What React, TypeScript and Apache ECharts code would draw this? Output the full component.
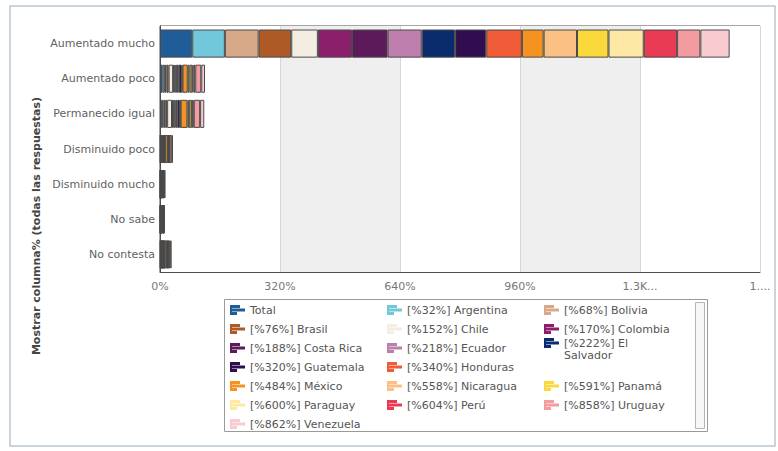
import React, { useEffect, useRef } from "react";
import * as echarts from "echarts";

// Response categories (rows of the chart)
const categories = [
  "Aumentado mucho",
  "Aumentado poco",
  "Permanecido igual",
  "Disminuido poco",
  "Disminuido mucho",
  "No sabe",
  "No contesta",
];

// Columns (one stacked segment each)
const countries = [
  "Total", "Argentina", "Bolivia", "Brasil", "Chile", "Colombia", "Costa Rica",
  "Ecuador", "El Salvador", "Guatemala", "Honduras", "México", "Nicaragua",
  "Panamá", "Paraguay", "Perú", "Uruguay", "Venezuela",
];

// Bracketed tag shown before each country name in the legend
const legendTags = [null, 32, 68, 76, 152, 170, 188, 218, 222, 320, 340, 484, 558, 591, 600, 604, 858, 862];

const countryColors = [
  "#1f5c98", "#70c8da", "#d7a988", "#ae5a27", "#f4eee2", "#8c1f6c", "#5d1a5a",
  "#be7fae", "#0b2c6c", "#2f0d4f", "#ef5c37", "#f4931f", "#fbc184", "#fbd93d",
  "#fde8a5", "#e93b53", "#f29ba1", "#f7cbd0",
];

// Column percentages per response, in country order
const aumentadoMucho = [86, 87, 90, 87, 71, 91, 95, 91, 89, 83, 95, 58, 89, 84, 94, 89, 62, 78];
const aumentadoPoco = [7, 6, 4, 6, 12, 4, 2, 4, 5, 8, 2, 14, 5, 7, 3, 5, 16, 10];
const permanecidoIgual = [5, 5, 4, 5, 13, 4, 2, 4, 4, 7, 2, 18, 4, 7, 2, 4, 17, 11];
const disminuidoPoco = [1, 1, 1, 1, 4, 1, 0.5, 1, 1, 2, 0.5, 7, 1, 2, 0.5, 1, 6, 3];
const disminuidoMucho = [0.5, 0.5, 0.3, 0.5, 1, 0.3, 0.2, 0.3, 0.5, 0.8, 0.2, 3, 0.5, 0.6, 0.2, 0.5, 2.5, 1];
const noSabe = [0.5, 0.4, 0.5, 0.5, 1, 0.3, 0.2, 0.4, 0.6, 1, 0.3, 2, 0.6, 0.8, 0.3, 0.5, 1.5, 1];
const noContesta = [1, 1, 1, 1, 2, 1, 0.5, 1, 1, 2, 0.5, 5, 1.5, 2, 1, 1.5, 4, 4];

const responseRows = [
  aumentadoMucho, aumentadoPoco, permanecidoIgual, disminuidoPoco,
  disminuidoMucho, noSabe, noContesta,
];

const xTickLabels = ["0%", "320%", "640%", "960%", "1.3K...", "1...."];
const X_STEP = 320;

const FONT = '"DejaVu Sans", Verdana, sans-serif';
const LEGEND_ICON =
  "path://M0,0H2V10H0Z M2,0H10V3H2Z M2,3.5H15V6.5H2Z M2,7H7V10H2Z";

const seriesNames = countries.map((c, i) =>
  legendTags[i] == null ? c : `[%${legendTags[i]}%] ${c}`
);

// Legend laid out as a 3-column table; a wrapped entry blocks the cell below it
function buildLegends() {
  const colX = [230, 387, 544];
  const firstRowY = 310;
  const rowStep = 19;
  const wrapLine = 12;
  const blocked = new Set<number>();
  let slot = 0;
  return seriesNames.map((name, i) => {
    while (blocked.has(slot)) slot++;
    const col = slot % 3;
    const row = Math.floor(slot / 3);
    const cy = firstRowY + row * rowStep;
    const wraps = countries[i] === "El Salvador";
    if (wraps) blocked.add(slot + 3);
    slot++;
    const base = {
      data: [name],
      left: colX[col],
      padding: 0,
      orient: "vertical",
      icon: LEGEND_ICON,
      itemWidth: 15,
      itemHeight: 10,
      itemGap: 4,
      itemStyle: { borderWidth: 0 },
    };
    if (wraps) {
      // leading blank line keeps the first text line level with the icon
      return {
        ...base,
        top: cy - 5 - wrapLine * 1.5,
        formatter: (n: string) => "\n" + n,
        textStyle: {
          color: "#555",
          fontSize: 11,
          fontFamily: FONT,
          width: 72,
          overflow: "break",
          lineHeight: wrapLine,
        },
      };
    }
    return {
      ...base,
      top: cy - 6,
      textStyle: { color: "#555", fontSize: 11, fontFamily: FONT, lineHeight: 12 },
    };
  });
}

export default function App() {
  const ref = useRef<HTMLDivElement>(null);

  useEffect(() => {
    if (!ref.current) return;
    const chart = echarts.init(ref.current, undefined, { renderer: "svg" });

    const series = seriesNames.map((name, i) => ({
      name,
      type: "bar",
      stack: "total",
      barWidth: "80%",
      itemStyle: {
        color: countryColors[i],
        borderColor: "#4a4a4a",
        borderWidth: 1,
      },
      emphasis: { disabled: true },
      data: responseRows.map((row) => row[i]),
    }));

    chart.setOption({
      animation: false,
      backgroundColor: "#ffffff",
      textStyle: { fontFamily: FONT },
      grid: {
        left: 160,
        right: 18,
        top: 26,
        bottom: 179,
        show: true,
        borderColor: "#4d4d4d",
        borderWidth: 1,
        backgroundColor: "transparent",
      },
      xAxis: {
        type: "value",
        min: 0,
        max: 1600,
        interval: X_STEP,
        axisLine: { show: true, lineStyle: { color: "#4d4d4d", width: 1 } },
        axisTick: { show: false },
        axisLabel: {
          color: "#777",
          fontSize: 11,
          fontFamily: FONT,
          margin: 9,
          formatter: (v: number) => xTickLabels[Math.round(v / X_STEP)] ?? "",
        },
        splitLine: { show: true, lineStyle: { color: "#d6d6d6", width: 1 } },
        splitArea: {
          show: true,
          areaStyle: { color: ["#ffffff", "#efefef"] },
        },
      },
      yAxis: {
        type: "category",
        inverse: true,
        data: categories,
        axisLine: { show: true, lineStyle: { color: "#4d4d4d", width: 1 } },
        axisTick: { show: false },
        axisLabel: {
          color: "#5f5f5f",
          fontSize: 11,
          fontFamily: FONT,
          margin: 5,
        },
      },
      legend: buildLegends(),
      series,
      graphic: [
        {
          type: "rect",
          shape: { x: 10, y: 6, width: 765, height: 440 },
          style: { fill: "none", stroke: "#bcc6cf", lineWidth: 1.5 },
          silent: true,
          z: -10,
        },
        {
          type: "rect",
          shape: { x: 224.5, y: 299.5, width: 483, height: 132 },
          style: { fill: "none", stroke: "#9a9a9a", lineWidth: 1 },
          silent: true,
        },
        {
          type: "rect",
          shape: { x: 695.5, y: 302.5, width: 9, height: 126 },
          style: { fill: "#f7f7f7", stroke: "#b5b5b5", lineWidth: 1 },
          silent: true,
        },
        {
          type: "text",
          x: 36,
          y: 226,
          rotation: Math.PI / 2,
          style: {
            text: "Mostrar columna% (todas las respuestas)",
            font: `bold 11px ${FONT}`,
            fill: "#444",
            align: "center",
            verticalAlign: "middle",
          },
          silent: true,
        },
      ],
    });

    return () => chart.dispose();
  }, []);

  return (
    <div
      ref={ref}
      style={{ position: "absolute", left: 0, top: 0, width: 778, height: 451 }}
    />
  );
}
